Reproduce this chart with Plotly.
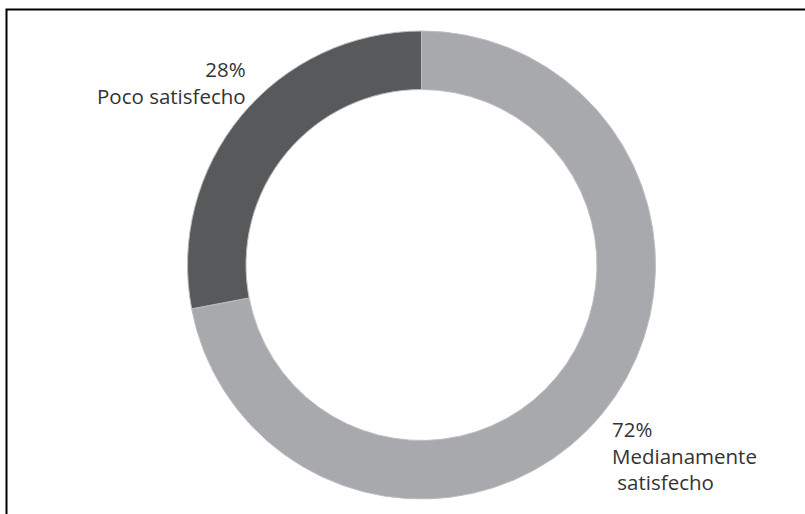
import plotly.graph_objects as go

categories = ["Medianamente satisfecho", "Poco satisfecho"]
values = [72, 28]
colors = ["#a7a9ac", "#58595b"]
label_lines = [["Medianamente", " satisfecho"], ["Poco satisfecho"]]

W, H = 805, 514
cx, cy, r = 421.5, 265, 234

fig = go.Figure(go.Pie(
    labels=categories,
    values=values,
    hole=0.75,
    sort=False,
    direction="clockwise",
    rotation=0,
    marker=dict(colors=colors, line=dict(color="#bcbec0", width=1)),
    textinfo="none",
    hoverinfo="label+percent",
    showlegend=False,
    domain=dict(x=[(cx - r) / W, (cx + r) / W], y=[1 - (cy + r) / H, 1 - (cy - r) / H]),
))

font = dict(family="Open Sans, sans-serif", size=20.5, color="#333333")
total = sum(values)
pct = [f"{round(v / total * 100)}%" for v in values]

annotations = [
    dict(text="<br>".join([pct[0]] + label_lines[0]), x=610 / W, y=1 - 413 / H,
         xref="paper", yref="paper", xanchor="left", yanchor="top", align="left",
         showarrow=False, font=font),
    dict(text="<br>".join([pct[1]] + label_lines[1]), x=248 / W, y=1 - 53 / H,
         xref="paper", yref="paper", xanchor="right", yanchor="top", align="right",
         showarrow=False, font=font),
]

fig.update_layout(
    width=W, height=H,
    margin=dict(l=0, r=0, t=0, b=0),
    paper_bgcolor="white",
    plot_bgcolor="white",
    annotations=annotations,
    shapes=[dict(type="rect", xref="paper", yref="paper",
                 x0=6.5 / W, x1=1.05, y0=-0.05, y1=1 - 9.5 / H,
                 line=dict(color="black", width=2), fillcolor="rgba(0,0,0,0)")],
)

fig.write_html("out.html")
